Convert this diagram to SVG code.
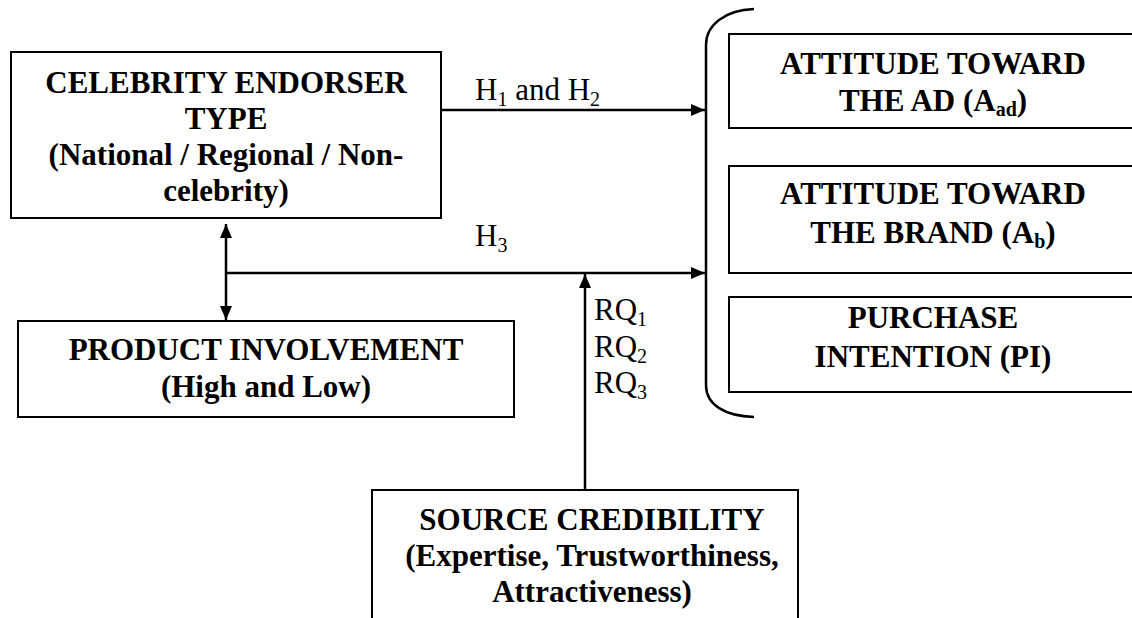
<svg xmlns="http://www.w3.org/2000/svg" width="1132" height="618" viewBox="0 0 1132 618">
<style>
.box{fill:#fff;stroke:#000;stroke-width:2}
.t{font-family:"Liberation Serif","Times New Roman",serif;font-weight:bold;font-size:31px;text-anchor:middle;fill:#000}
.l{font-family:"Liberation Serif","Times New Roman",serif;font-size:31px;fill:#000}
.s{font-size:20px}
.c{fill:none;stroke:#000;stroke-width:2.5}
</style>
<defs>
<marker id="ah" viewBox="0 0 14 12" refX="14" refY="6" markerWidth="14" markerHeight="12" markerUnits="userSpaceOnUse" orient="auto-start-reverse">
<path d="M0,0 L14,6 L0,12 Z" fill="#000"/>
</marker>
</defs>
<rect width="1132" height="618" fill="#fff"/>
<g id="connectors">
<line class="c" x1="441" y1="110" x2="705" y2="110" marker-end="url(#ah)"/>
<line class="c" x1="226" y1="273" x2="705" y2="273" marker-end="url(#ah)"/>
<line class="c" x1="226" y1="224" x2="226" y2="320" marker-start="url(#ah)" marker-end="url(#ah)"/>
<line class="c" x1="585" y1="490" x2="585" y2="274" marker-end="url(#ah)"/>
<text class="l" x="475" y="100">H<tspan class="s" dy="6">1</tspan><tspan dy="-6"> and H</tspan><tspan class="s" dy="6">2</tspan></text>
<text class="l" x="475" y="246">H<tspan class="s" dy="6">3</tspan></text>
<text class="l" x="594" y="320">RQ<tspan class="s" dy="6">1</tspan></text>
<text class="l" x="594" y="357">RQ<tspan class="s" dy="6">2</tspan></text>
<text class="l" x="594" y="393">RQ<tspan class="s" dy="6">3</tspan></text>
</g>
<g id="bracket">
<path class="c" d="M754,9 C725,10 706,25 706,45 L706,385 C706,405 725,416 754,417" stroke-width="2"/>
</g>
<g id="celebrity">
<rect class="box" x="11" y="52" width="430" height="166"/>
<text class="t" x="226" y="93">CELEBRITY ENDORSER</text>
<text class="t" x="226" y="129">TYPE</text>
<text class="t" x="226" y="165">(National / Regional / Non-</text>
<text class="t" x="226" y="201">celebrity)</text>
</g>
<g id="product">
<rect class="box" x="18" y="321" width="496" height="96"/>
<text class="t" x="266" y="360">PRODUCT INVOLVEMENT</text>
<text class="t" x="266" y="397">(High and Low)</text>
</g>
<g id="attitude-ad">
<rect class="box" x="729" y="34" width="412" height="94"/>
<text class="t" x="933" y="74">ATTITUDE TOWARD</text>
<text class="t" x="933" y="111">THE AD (A<tspan class="s" dy="5">ad</tspan><tspan dy="-5">)</tspan></text>
</g>
<g id="attitude-brand">
<rect class="box" x="729" y="166" width="412" height="107"/>
<text class="t" x="933" y="204">ATTITUDE TOWARD</text>
<text class="t" x="933" y="243">THE BRAND (A<tspan class="s" dy="5">b</tspan><tspan dy="-5">)</tspan></text>
</g>
<g id="purchase">
<rect class="box" x="729" y="297" width="412" height="95"/>
<text class="t" x="933" y="328">PURCHASE</text>
<text class="t" x="933" y="367">INTENTION (PI)</text>
</g>
<g id="source">
<rect class="box" x="372" y="490" width="426" height="140"/>
<text class="t" x="592" y="530">SOURCE CREDIBILITY</text>
<text class="t" x="592" y="566">(Expertise, Trustworthiness,</text>
<text class="t" x="592" y="602">Attractiveness)</text>
</g>
</svg>
